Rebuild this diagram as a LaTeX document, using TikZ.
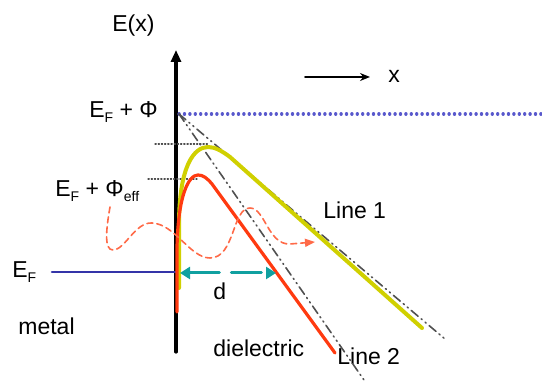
\documentclass[tikz,border=0pt]{standalone}
\usepackage{fontspec}
\setmainfont{Liberation Sans}
\usetikzlibrary{arrows.meta,calc,positioning}
\definecolor{BarrierYellow}{HTML}{D0D000}
\definecolor{BarrierRed}{HTML}{FF3A10}
\definecolor{FermiBlue}{HTML}{3434A8}
\definecolor{VacuumBlue}{HTML}{5858CC}
\definecolor{GapTeal}{HTML}{10A0A0}
\definecolor{WaveRed}{HTML}{FF6A48}
\definecolor{Slate}{HTML}{505050}
\newcommand{\lowidx}[1]{\raisebox{-2.5pt}{\fontsize{7}{8}\selectfont #1}}

\tikzset{
  lbl/.style={font=\fontsize{11.5}{13}\selectfont,inner sep=0pt,anchor=base west},
  asym/.style={Slate,line width=0.8pt,
    dash pattern=on 4.5pt off 2pt on 0.6pt off 2pt on 0.6pt off 2pt},
  level/.style={black!70,line width=0.6pt,dash pattern=on 0.6pt off 1pt},
}

\begin{document}
\begin{tikzpicture}[x=0.5pt,y=-0.5pt,line cap=round,line join=round]
  \useasboundingbox (0,0) rectangle (542,383);
  \coordinate (axbot) at (176,352);
  \coordinate (axtop) at (176,50);
  \coordinate (vac) at (179,114);
  \coordinate (vacend) at (542,114);
  \coordinate (fermi) at (52,272);
  \coordinate (wall) at (176,272);

  \node[lbl] (Ex) at (112,32) {E(x)};
  \node[lbl] (EPhi) at (89,118) {E\lowidx{F} + Φ};
  \node[lbl] (EPhieff) at (55,197) {E\lowidx{F} + Φ\lowidx{eff}};
  \node[lbl] (EF) at (12,278) {E\lowidx{F}};
  \node[lbl] (metal) at (18,335) {metal};
  \node[lbl] (diel) at (213,357) {dielectric};
  \node[lbl] (line1) at (323,219) {Line 1};
  \node[lbl] (line2) at (337,365) {Line 2};
  \node[lbl] (dlen) at (213,300) {d};
  \node[lbl] (xlab) at (388,83) {x};
  \coordinate (xfrom) at (305,77);
  \coordinate (xto) at (370,77);

  % energy axis and x direction
  \draw[line width=1.6pt,-{Triangle[length=6pt,width=5pt]}] (axbot) -- (axtop);
  \draw[line width=0.8pt,-{Stealth[length=5pt,width=4pt]}] (xfrom) -- (xto);

  % levels
  \draw[VacuumBlue,line width=1.6pt,dash pattern=on 0.1pt off 2.6pt] (vac) -- (vacend);
  \draw[FermiBlue,line width=1.3pt] (fermi) -- (wall);
  \draw[level] (155,144) -- (208,144);
  \draw[level] (148,179) -- (197,179);

  % image-charge asymptotes
  \draw[asym] (vac) -- (445,339);
  \draw[asym] (vac) -- (364,380);

  % barriers
  \draw[BarrierYellow,line width=2pt] (179,288) -- (179,225)
    .. controls (179,166) and (194,147) .. (208,147)
    .. controls (215,147) and (222,151) .. (230,157) -- (422,328);
  \draw[BarrierRed,line width=1.6pt] (177,312) -- (177,248)
    .. controls (178,194) and (189,175) .. (198,175)
    .. controls (203,175) and (207,178) .. (212,184) -- (335,353);

  % tunnelling electron
  \draw[WaveRed,line width=0.8pt,dash pattern=on 3pt off 2pt,
    -{Triangle[length=5pt,width=4pt]}] (110,207)
    .. controls (106,230) and (104,250) .. (113,250)
    .. controls (125,250) and (135,222) .. (152,223)
    .. controls (175,224) and (190,258) .. (210,258)
    .. controls (235,258) and (232,208) .. (250,208)
    .. controls (265,208) and (268,245) .. (290,244)
    -- (315,242);

  % barrier width
  \draw[GapTeal,line width=1.5pt,dash pattern=on 15pt off 6pt,
    {Triangle[length=5pt,width=6pt]}-{Triangle[length=5pt,width=6pt]}]
    (180,273) -- (276,273);
\end{tikzpicture}
\end{document}
